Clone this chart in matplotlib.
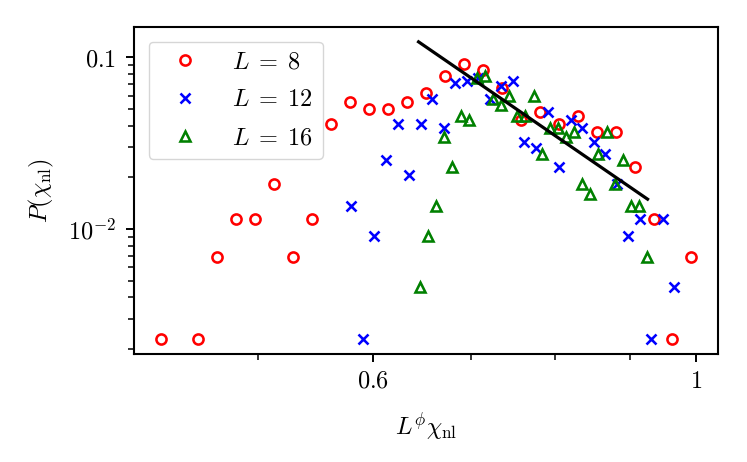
import numpy as np
import matplotlib
matplotlib.use("Agg")
import matplotlib.pyplot as plt
from matplotlib.ticker import FixedLocator, FixedFormatter, LogLocator, NullFormatter

plt.rcParams['mathtext.fontset'] = 'cm'
plt.rcParams['font.family'] = 'serif'
plt.rcParams['font.serif'] = ['cmr10', 'DejaVu Serif']
plt.rcParams['axes.unicode_minus'] = False
plt.rcParams['font.size'] = 17.5

# L = 8
x8 = [0.4285, 0.4550, 0.4688, 0.4831, 0.4978, 0.5130, 0.5286, 0.5447, 0.5613,
      0.5784, 0.5960, 0.6142, 0.6329, 0.6521, 0.6720, 0.6925, 0.7135, 0.7353,
      0.7577, 0.7807, 0.8045, 0.8290, 0.8542, 0.8802, 0.9071, 0.9347, 0.9631,
      0.9925]
p8 = [0.002288, 0.002288, 0.006865, 0.01144, 0.01144, 0.01831, 0.006865, 0.01144,
      0.04119, 0.05492, 0.05034, 0.05034, 0.05492, 0.06178, 0.07780, 0.09153,
      0.08467, 0.06636, 0.04348, 0.04805, 0.04119, 0.04577, 0.03661, 0.03661,
      0.02288, 0.01144, 0.002288, 0.006865]

# L = 12
x12 = [0.5795, 0.5902, 0.6010, 0.6121, 0.6234, 0.6349, 0.6466, 0.6585, 0.6706,
       0.6830, 0.6955, 0.7084, 0.7214, 0.7347, 0.7482, 0.7620, 0.7761, 0.7904,
       0.8049, 0.8197, 0.8348, 0.8502, 0.8659, 0.8818, 0.8981, 0.9146, 0.9315,
       0.9486, 0.9661]
p12 = [0.01373, 0.002288, 0.009153, 0.02517, 0.04119, 0.02059, 0.04119, 0.05721,
       0.03890, 0.07094, 0.07323, 0.07551, 0.05721, 0.06865, 0.07323, 0.03204,
       0.02975, 0.04805, 0.02288, 0.04348, 0.03890, 0.03204, 0.02746, 0.01831,
       0.009153, 0.01144, 0.002288, 0.01144, 0.004577]

# L = 16
x16 = [0.6460, 0.6543, 0.6628, 0.6713, 0.6800, 0.6888, 0.6977, 0.7067, 0.7158,
       0.7251, 0.7344, 0.7439, 0.7535, 0.7632, 0.7731, 0.7831, 0.7932, 0.8034,
       0.8138, 0.8243, 0.8349, 0.8457, 0.8566, 0.8677, 0.8789, 0.8902, 0.9017,
       0.9134, 0.9251]
p16 = [0.004577, 0.009153, 0.01373, 0.03432, 0.02288, 0.04577, 0.04348, 0.07551,
       0.07780, 0.05721, 0.05263, 0.05950, 0.04577, 0.04577, 0.05950, 0.02746,
       0.03890, 0.03890, 0.03432, 0.03661, 0.01831, 0.01602, 0.02746, 0.03661,
       0.01831, 0.02517, 0.01373, 0.01373, 0.006865]

# power-law guide
fit_x = [0.6445, 0.9259]
fit_y = [0.1233, 0.01495]

fig = plt.figure(figsize=(7.47, 4.62), dpi=100)
ax = fig.add_axes([0.1794, 0.2338, 0.9612 - 0.1794, 0.9416 - 0.2338])

ms, mew = 7.3, 1.85
ax.plot(x8, p8, 'o', ls='none', mfc='none', mec='red', ms=ms, mew=mew, label=r'$L\;=\;8$')
ax.plot(x12, p12, 'x', ls='none', color='blue', ms=ms, mew=mew, label=r'$L\;=\;12$')
ax.plot(x16, p16, '^', ls='none', mfc='none', mec='green', ms=ms, mew=mew, label=r'$L\;=\;16$')
ax.plot(fit_x, fit_y, color='black', lw=2.3)

ax.set_xscale('log')
ax.set_yscale('log')

ax.xaxis.set_major_locator(FixedLocator([0.6, 1.0]))
ax.xaxis.set_major_formatter(FixedFormatter([r'$0.6$', r'$1$']))
ax.xaxis.set_minor_locator(LogLocator(base=10, subs=np.arange(2, 10)))
ax.xaxis.set_minor_formatter(NullFormatter())
ax.yaxis.set_major_locator(FixedLocator([0.01, 0.1]))
ax.yaxis.set_major_formatter(FixedFormatter([r'$10^{-2}$', r'$0.1$']))
ax.yaxis.set_minor_locator(LogLocator(base=10, subs=np.arange(2, 10)))
ax.yaxis.set_minor_formatter(NullFormatter())

for s in ax.spines.values():
    s.set_linewidth(1.5)
ax.tick_params(which='major', length=6, width=1.4)
ax.tick_params(axis='y', which='major', pad=7)
ax.tick_params(axis='x', which='major', pad=6)
ax.tick_params(which='minor', length=4, width=1.1)

ax.set_xlabel(r'$L^{\phi}\chi_{\mathrm{nl}}$')
ax.set_ylabel(r'$P(\chi_{\mathrm{nl}})$')
ax.xaxis.set_label_coords(0.5, -0.223)
ax.xaxis.label.set_va('center')
ax.yaxis.set_label_coords(-0.159, 0.5)
ax.yaxis.label.set_va('center')

ax.legend(loc='upper left', handlelength=2.2, handletextpad=0.85,
          labelspacing=0.65, borderaxespad=0.6)

fig.savefig('out.png', dpi=100)
